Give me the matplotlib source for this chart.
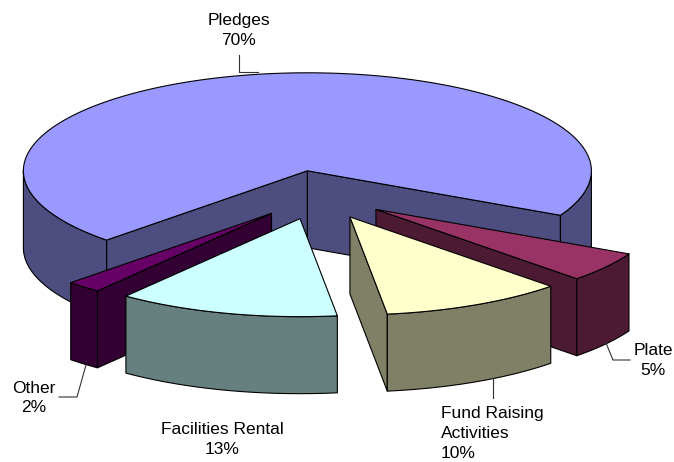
"""Exploded 3-D style pie of income sources"""

import numpy as np
import matplotlib
matplotlib.use("Agg")
import matplotlib.pyplot as plt
from matplotlib.patches import Polygon

plt.rcParams['font.family'] = ['Liberation Sans', 'DejaVu Sans']

labels = ['Pledges', 'Plate', 'Fund Raising\nActivities', 'Facilities Rental', 'Other']
values = [70.0, 5.0, 10.4, 12.6, 2.0]   # shares
top_colors = ['#9999FF', '#993366', '#FFFFCC', '#CCFFFF', '#660066']
side_colors = ['#4D4D80', '#4D1A33', '#808066', '#668080', '#330033']

# geometry of the pie, in pixels of the 674x462 figure
CX, CY = 318.5, 195.0      # centre of the un-exploded pie
RX, RY = 284.0, 98.0       # radii of the top ellipse
DEPTH = 77.0               # thickness of the pie
EXPLODE = 0.25             # same pull-out for every slice
START = 135.0              # angle where the first slice starts (clockwise on screen)


def rim(apex, theta, dz=0.0):
    t = np.radians(theta)
    return np.column_stack([apex[0] + RX * np.cos(t), apex[1] + RY * np.sin(t) + dz])


def front_arcs(s, e):
    # parts of [s, e] where the outer wall faces the viewer (sin > 0)
    out = []
    k = np.floor(s / 360.0) - 1
    while k * 360 < e:
        lo, hi = max(s, k * 360), min(e, k * 360 + 180)
        if hi > lo:
            out.append((lo, hi))
        k += 1
    return out


def draw_slice(ax, s, e, top, side):
    m = np.radians((s + e) / 2)
    apex = (CX + EXPLODE * RX * np.cos(m), CY + EXPLODE * RY * np.sin(m))
    kw = dict(edgecolor='black', linewidth=0.8, joinstyle='round')

    lo_apex = np.array([[apex[0], apex[1] + DEPTH]])
    up_apex = np.array([apex])
    # radial cut faces
    if np.cos(np.radians(s)) < 0:
        pts = np.vstack([up_apex, rim(apex, [s]), rim(apex, [s], DEPTH), lo_apex])
        ax.add_patch(Polygon(pts, facecolor=side, **kw))
    if np.cos(np.radians(e)) > 0:
        pts = np.vstack([up_apex, rim(apex, [e]), rim(apex, [e], DEPTH), lo_apex])
        ax.add_patch(Polygon(pts, facecolor=side, **kw))
    # outer wall
    for lo, hi in front_arcs(s, e):
        th = np.linspace(lo, hi, 120)
        pts = np.vstack([rim(apex, th), rim(apex, th[::-1], DEPTH)])
        ax.add_patch(Polygon(pts, facecolor=side, **kw))
    # top face
    th = np.linspace(s, e, 240)
    pts = np.vstack([up_apex, rim(apex, th)])
    ax.add_patch(Polygon(pts, facecolor=top, **kw))


fig = plt.figure(figsize=(6.74, 4.62), dpi=100)
ax = fig.add_axes([0, 0, 1, 1])
ax.set_xlim(0, 674)
ax.set_ylim(462, 0)
ax.axis('off')

total = float(sum(values))
spans = [360.0 * v / total for v in values]
starts = START + np.concatenate([[0], np.cumsum(spans)[:-1]])

# back to front
order = sorted(range(len(values)),
               key=lambda i: np.sin(np.radians(starts[i] + spans[i] / 2)))
for i in order:
    draw_slice(ax, starts[i], starts[i] + spans[i], top_colors[i], side_colors[i])

# data labels with leader lines
pct = [f"{round(100 * v / total):d}%" for v in values]
label_pos = [(239, 30.5, 'center'), (653, 360.5, 'center'), (441, 433.5, 'left'),
             (222, 439.5, 'center'), (34, 398, 'center')]
leaders = [[(239, 55), (239, 72), (258, 72)],
           [(630, 360), (613, 360), (606, 343)],
           [(493, 378), (493, 398)],
           None,
           [(59, 397), (77, 397), (86, 365)]]

for i, lab in enumerate(labels):
    x, y, ha = label_pos[i]
    ax.text(x, y, f"{lab}\n{pct[i]}", ha=ha, va='center', multialignment=ha,
            fontsize=12.5, linespacing=1.4, color='black')
    if leaders[i] is not None:
        xs, ys = zip(*leaders[i])
        ax.plot(xs, ys, color='#333333', linewidth=0.8)

fig.savefig('out.png', dpi=100)
